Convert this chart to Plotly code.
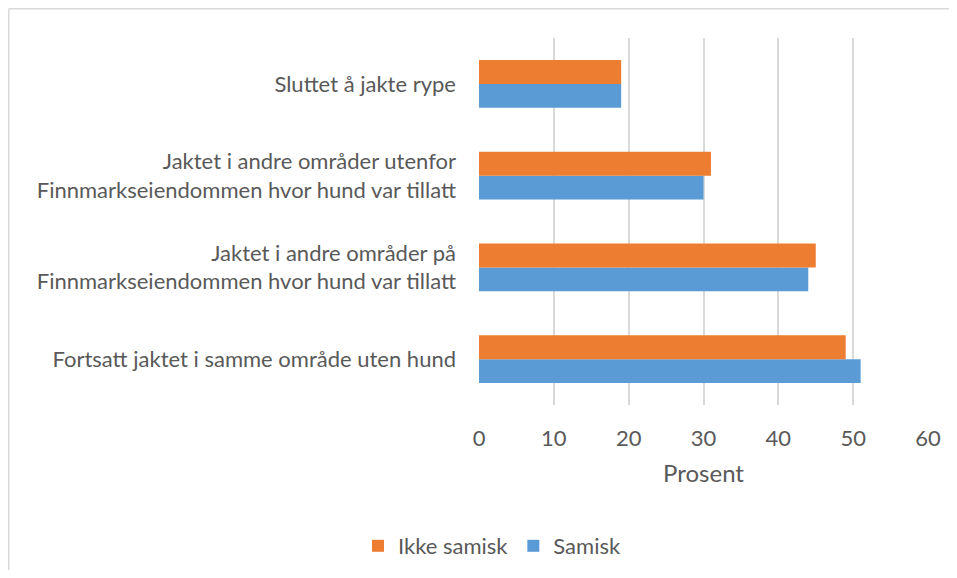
import plotly.graph_objects as go

# Categories, bottom to top as in the chart
categories = [
    "Fortsatt jaktet i samme område uten hund",
    "Jaktet i andre områder på<br>Finnmarkseiendommen hvor hund var tillatt",
    "Jaktet i andre områder utenfor<br>Finnmarkseiendommen hvor hund var tillatt",
    "Sluttet å jakte rype",
]
samisk = [51, 44, 30, 19]
ikke_samisk = [49, 45, 31, 19]
x_ticks = [0, 10, 20, 30, 40, 50, 60]

FONT = "Lato"
GREY = "#595959"
BORDER = "#d9d9d9"

fig = go.Figure()

# Samisk first so it sits below the orange bar in each group
fig.add_trace(go.Bar(
    y=categories, x=samisk, name="Samisk", orientation="h",
    marker=dict(color="#5b9bd5", line=dict(width=0)),
))
fig.add_trace(go.Bar(
    y=categories, x=ikke_samisk, name="Ikke samisk", orientation="h",
    marker=dict(color="#ed7d31", line=dict(width=0)),
))

# chart frame: only the top and left edges are visible in the picture
left = (0.75 - 471) / 449
top = (397 - 0.75) / 367
frame = [
    dict(type="line", xref="paper", yref="paper",
         x0=left, x1=(960 - 471) / 449, y0=top, y1=top,
         line=dict(color=BORDER, width=1.5), layer="below"),
    dict(type="line", xref="paper", yref="paper",
         x0=left, x1=left, y0=top, y1=(397 - 600) / 367,
         line=dict(color=BORDER, width=1.5), layer="below"),
]

# page body adds 8px on each side, keep the figure inside the window
fig.update_layout(
    width=941, height=562,
    margin=dict(l=471, r=21, t=30, b=165, autoexpand=False),
    paper_bgcolor="white", plot_bgcolor="white",
    barmode="group", bargap=0.477, bargroupgap=0,
    font=dict(family=FONT, size=22, color=GREY),
    xaxis=dict(
        range=[0, 60], tickvals=x_ticks, showgrid=True,
        gridcolor=BORDER, gridwidth=2, zeroline=False,
        showline=False, ticks="outside", ticklen=14,
        tickcolor="rgba(0,0,0,0)", automargin=False,
        title=dict(text="Prosent", font=dict(size=24, color=GREY), standoff=14),
        tickfont=dict(size=22, color=GREY),
    ),
    yaxis=dict(
        type="category", showgrid=False, zeroline=False, showline=False,
        ticks="", ticklabelstandoff=22, automargin=False,
        tickfont=dict(size=22, color=GREY),
    ),
    legend=dict(
        orientation="h", traceorder="reversed",
        x=(492 - 8) / 941, xref="container", xanchor="center",
        y=24 / 562, yref="container", yanchor="middle",
        font=dict(size=22, color=GREY),
    ),
    shapes=frame,
)

fig.write_html("out.html")
